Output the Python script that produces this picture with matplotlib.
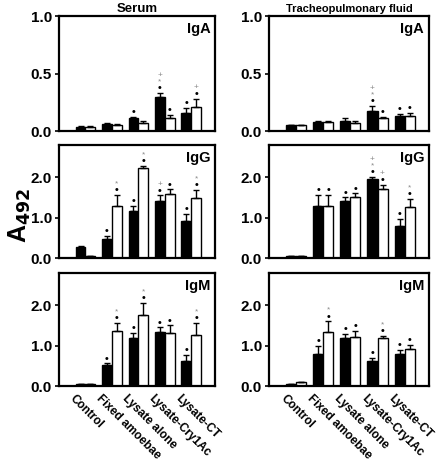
import matplotlib
matplotlib.use('Agg')
import matplotlib.pyplot as plt
import numpy as np

plt.rcParams['font.family'] = ['Liberation Sans', 'DejaVu Sans']
plt.rcParams['font.weight'] = 'bold'

groups = ['Control', 'Fixed amoebae', 'Lysate alone', 'Lysate-Cry1Ac', 'Lysate-CT']

# serum (black = first bar, white = second bar of each group)
serum_iga_black = [0.038, 0.06, 0.11, 0.30, 0.16]
serum_iga_black_err = [0.005, 0.01, 0.01, 0.03, 0.04]
serum_iga_white = [0.035, 0.05, 0.067, 0.11, 0.21]
serum_iga_white_err = [0.005, 0.008, 0.02, 0.03, 0.07]

serum_igg_black = [0.27, 0.47, 1.16, 1.42, 0.92]
serum_igg_black_err = [0.02, 0.08, 0.14, 0.13, 0.17]
serum_igg_white = [0.04, 1.29, 2.23, 1.58, 1.48]
serum_igg_white_err = [0.01, 0.28, 0.05, 0.12, 0.20]

serum_igm_black = [0.04, 0.53, 1.18, 1.33, 0.62]
serum_igm_black_err = [0.01, 0.03, 0.13, 0.12, 0.15]
serum_igm_white = [0.04, 1.37, 1.77, 1.32, 1.26]
serum_igm_white_err = [0.01, 0.20, 0.28, 0.18, 0.30]

# tracheopulmonary fluid
tpf_iga_black = [0.05, 0.08, 0.09, 0.17, 0.13]
tpf_iga_black_err = [0.005, 0.005, 0.02, 0.05, 0.02]
tpf_iga_white = [0.05, 0.08, 0.07, 0.11, 0.13]
tpf_iga_white_err = [0.005, 0.005, 0.02, 0.01, 0.03]

tpf_igg_black = [0.05, 1.29, 1.40, 1.95, 0.80]
tpf_igg_black_err = [0.005, 0.28, 0.10, 0.05, 0.17]
tpf_igg_white = [0.05, 1.29, 1.50, 1.72, 1.27]
tpf_igg_white_err = [0.005, 0.28, 0.10, 0.10, 0.20]

tpf_igm_black = [0.05, 0.79, 1.18, 0.63, 0.80]
tpf_igm_black_err = [0.005, 0.20, 0.10, 0.06, 0.10]
tpf_igm_white = [0.10, 1.35, 1.22, 1.20, 0.92]
tpf_igm_white_err = [0.01, 0.25, 0.15, 0.05, 0.10]

# significance marks stacked above each bar, bottom to top
serum_iga_black_marks = ['', '', '•', '•*+', '•']
serum_iga_white_marks = ['', '', '', '•', '•+']
serum_igg_black_marks = ['', '•', '•', '•+', '•']
serum_igg_white_marks = ['', '•*', '•*', '•', '•*']
serum_igm_black_marks = ['', '•', '•', '•', '•']
serum_igm_white_marks = ['', '•*', '•*', '•', '•*']

tpf_iga_black_marks = ['', '', '', '•*+', '•']
tpf_iga_white_marks = ['', '', '', '•', '•']
tpf_igg_black_marks = ['', '•', '•', '•*+', '•']
tpf_igg_white_marks = ['', '•', '•', '•+', '•*']
tpf_igm_black_marks = ['', '•', '•', '•', '•']
tpf_igm_white_marks = ['', '•*', '•', '•*', '•']


def draw_marks(ax, x, tops, marks):
    for xi, top, m in zip(x, tops, marks):
        offset = 3.5
        for ch in m:
            if ch == '•':
                ax.annotate(ch, (xi, top), xytext=(0, offset), textcoords='offset points',
                            ha='center', va='center', fontsize=7.5, color='black',
                            fontweight='bold')
            else:
                ax.annotate(ch, (xi, top), xytext=(0, offset), textcoords='offset points',
                            ha='center', va='center', fontsize=6, color='#8a8a8a',
                            fontweight='normal')
            offset += 4.5


def plot_panel(ax, black, black_err, white, white_err, black_marks, white_marks,
               label, ymax, yticks):
    x = np.arange(len(groups))
    w = 0.37
    zeros = np.zeros(len(groups))
    ax.bar(x - w / 2, black, w, color='black', edgecolor='black', linewidth=1,
           yerr=[zeros, black_err], error_kw=dict(ecolor='black', elinewidth=1, capsize=2.5, capthick=1))
    ax.bar(x + w / 2, white, w, color='white', edgecolor='black', linewidth=1,
           yerr=[zeros, white_err], error_kw=dict(ecolor='black', elinewidth=1, capsize=2.5, capthick=1))
    draw_marks(ax, x - w / 2, np.array(black) + np.array(black_err), black_marks)
    draw_marks(ax, x + w / 2, np.array(white) + np.array(white_err), white_marks)

    ax.set_xlim(-1.0, 4.9)
    ax.set_ylim(0, ymax)
    ax.set_yticks(yticks)
    ax.set_yticklabels(['%.1f' % t for t in yticks], fontsize=11, fontweight='bold')
    ax.tick_params(axis='y', direction='out', length=3, width=1.2, pad=2)
    ax.tick_params(axis='x', length=0)
    for s in ax.spines.values():
        s.set_linewidth(1.6)
    ax.text(0.97, 0.95, label, transform=ax.transAxes, ha='right', va='top',
            fontsize=10.5, fontweight='bold')
    ax.set_xticks(x)
    ax.set_xticklabels([])


fig = plt.figure(figsize=(4.39, 4.68), dpi=100)

left_cols = [0.1344, 0.6128]
widths = [0.3554, 0.3645]
rows = [(0.720, 0.2457), (0.4487, 0.2415), (0.1752, 0.2415)]

ax_s_a = fig.add_axes([left_cols[0], rows[0][0], widths[0], rows[0][1]])
ax_s_g = fig.add_axes([left_cols[0], rows[1][0], widths[0], rows[1][1]])
ax_s_m = fig.add_axes([left_cols[0], rows[2][0], widths[0], rows[2][1]])
ax_t_a = fig.add_axes([left_cols[1], rows[0][0], widths[1], rows[0][1]])
ax_t_g = fig.add_axes([left_cols[1], rows[1][0], widths[1], rows[1][1]])
ax_t_m = fig.add_axes([left_cols[1], rows[2][0], widths[1], rows[2][1]])

plot_panel(ax_s_a, serum_iga_black, serum_iga_black_err, serum_iga_white, serum_iga_white_err,
           serum_iga_black_marks, serum_iga_white_marks, 'IgA', 1.0, [0.0, 0.5, 1.0])
plot_panel(ax_s_g, serum_igg_black, serum_igg_black_err, serum_igg_white, serum_igg_white_err,
           serum_igg_black_marks, serum_igg_white_marks, 'IgG', 2.8, [0.0, 1.0, 2.0])
plot_panel(ax_s_m, serum_igm_black, serum_igm_black_err, serum_igm_white, serum_igm_white_err,
           serum_igm_black_marks, serum_igm_white_marks, 'IgM', 2.8, [0.0, 1.0, 2.0])
plot_panel(ax_t_a, tpf_iga_black, tpf_iga_black_err, tpf_iga_white, tpf_iga_white_err,
           tpf_iga_black_marks, tpf_iga_white_marks, 'IgA', 1.0, [0.0, 0.5, 1.0])
plot_panel(ax_t_g, tpf_igg_black, tpf_igg_black_err, tpf_igg_white, tpf_igg_white_err,
           tpf_igg_black_marks, tpf_igg_white_marks, 'IgG', 2.8, [0.0, 1.0, 2.0])
plot_panel(ax_t_m, tpf_igm_black, tpf_igm_black_err, tpf_igm_white, tpf_igm_white_err,
           tpf_igm_black_marks, tpf_igm_white_marks, 'IgM', 2.8, [0.0, 1.0, 2.0])

ax_s_a.set_title('Serum', fontsize=9.5, fontweight='bold', pad=3)
ax_t_a.set_title('Tracheopulmonary fluid', fontsize=8, fontweight='bold', pad=3)

# rotated group labels under the bottom row
for ax in [ax_s_m, ax_t_m]:
    for i, g in enumerate(groups):
        ax.annotate(g, (i, 0), xytext=(-7, -5), textcoords='offset points',
                    rotation=-45, rotation_mode='anchor', ha='left', va='top',
                    fontsize=8.5, fontweight='bold', annotation_clip=False)

fig.text(0.045, 0.54, r'A$_{492}$', rotation=90, ha='center', va='center',
         fontsize=18, fontweight='bold')

fig.savefig('out.png', dpi=100)
